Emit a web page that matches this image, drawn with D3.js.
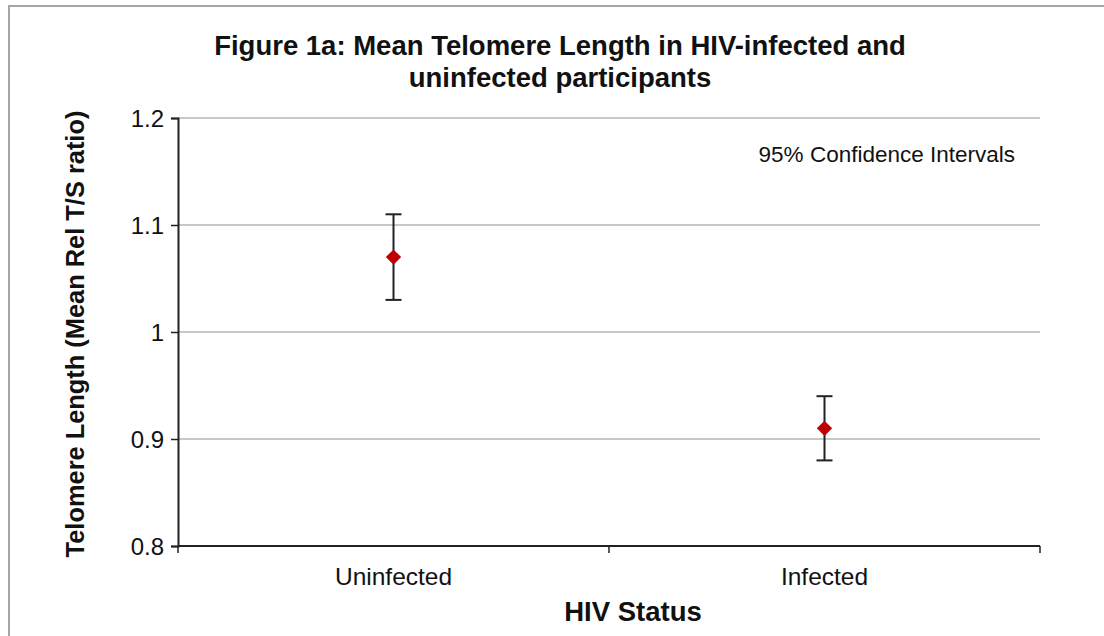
<!DOCTYPE html>
<html>
<head>
<meta charset="utf-8">
<script src="https://cdn.jsdelivr.net/npm/d3@7"></script>
<style>
  body { margin: 0; background: #fff; }
  svg { display: block; font-family: "Liberation Sans", Arial, sans-serif; }
</style>
</head>
<body>
<svg width="1104" height="636"></svg>
<script>
// chart data
var categories = ["Uninfected", "Infected"];
var means = [1.07, 0.91];
var lower = [1.03, 0.88];
var upper = [1.11, 0.94];
var yTicks = [0.8, 0.9, 1.0, 1.1, 1.2];

var svg = d3.select("svg");

// outer frame (runs off right and bottom edges)
svg.append("rect")
    .attr("x", 9).attr("y", 6)
    .attr("width", 1110).attr("height", 660)
    .attr("fill", "none")
    .attr("stroke", "#a6a6a6")
    .attr("stroke-width", 2);

var margin = {left: 178, right: 1040, top: 118, bottom: 546};

var y = d3.scaleLinear().domain([0.8, 1.2]).range([margin.bottom, margin.top]);
var x = d3.scaleBand().domain(categories).range([margin.left, margin.right]);

// gridlines
svg.append("g").selectAll("line")
    .data(yTicks.filter(function(d) { return d > 0.8; }))
    .enter().append("line")
    .attr("x1", margin.left).attr("x2", margin.right)
    .attr("y1", function(d) { return y(d); })
    .attr("y2", function(d) { return y(d); })
    .attr("stroke", "#c8c8c8")
    .attr("stroke-width", 2);

// y axis
var yAxis = svg.append("g")
    .attr("transform", "translate(" + margin.left + ",0)")
    .call(d3.axisLeft(y).tickValues(yTicks).tickSize(7).tickPadding(7)
        .tickFormat(function(d) { return d3.format("")(+d.toFixed(1)); }));
yAxis.selectAll("text").attr("font-size", 24).attr("fill", "#111").attr("dy", "0.35em")
    .style("font-family", "'Liberation Sans', Arial, sans-serif");
yAxis.selectAll("line").attr("stroke", "#222").attr("stroke-width", 1.5);
yAxis.select(".domain").attr("stroke", "#222").attr("stroke-width", 2);

// x axis
var xAxis = svg.append("g")
    .attr("transform", "translate(0," + margin.bottom + ")")
    .call(d3.axisBottom(x).tickSize(0).tickPadding(22));
xAxis.select(".domain").remove();
xAxis.selectAll("text").attr("font-size", 24.5).attr("fill", "#111")
    .style("font-family", "'Liberation Sans', Arial, sans-serif");

svg.append("line")
    .attr("x1", margin.left).attr("x2", margin.right)
    .attr("y1", margin.bottom).attr("y2", margin.bottom)
    .attr("stroke", "#222").attr("stroke-width", 2);
var bounds = [margin.left, margin.left + x.bandwidth(), margin.right];
svg.append("g").selectAll("line")
    .data(bounds).enter().append("line")
    .attr("x1", function(d) { return d; }).attr("x2", function(d) { return d; })
    .attr("y1", margin.bottom).attr("y2", margin.bottom + 7)
    .attr("stroke", "#222").attr("stroke-width", 1.5);

// error bars
var pts = categories.map(function(c, i) {
  return {cat: c, mean: means[i], lo: lower[i], hi: upper[i]};
});
var g = svg.append("g").selectAll("g").data(pts).enter().append("g")
    .attr("transform", function(d) { return "translate(" + (x(d.cat) + x.bandwidth() / 2) + ",0)"; });

g.append("line")
    .attr("y1", function(d) { return y(d.lo); })
    .attr("y2", function(d) { return y(d.hi); })
    .attr("stroke", "#222").attr("stroke-width", 2);
g.append("line")
    .attr("x1", -8).attr("x2", 8)
    .attr("y1", function(d) { return y(d.hi); })
    .attr("y2", function(d) { return y(d.hi); })
    .attr("stroke", "#222").attr("stroke-width", 2);
g.append("line")
    .attr("x1", -8).attr("x2", 8)
    .attr("y1", function(d) { return y(d.lo); })
    .attr("y2", function(d) { return y(d.lo); })
    .attr("stroke", "#222").attr("stroke-width", 2);
g.append("path")
    .attr("d", d3.symbol().type(d3.symbolDiamond2).size(150))
    .attr("transform", function(d) { return "translate(0," + y(d.mean) + ")"; })
    .attr("fill", "#c00000");

// titles
svg.append("text")
    .attr("x", 560).attr("y", 55)
    .attr("text-anchor", "middle")
    .attr("font-size", 27.5).attr("font-weight", "bold").attr("fill", "#111")
    .text("Figure 1a: Mean Telomere Length in HIV-infected and");
svg.append("text")
    .attr("x", 560).attr("y", 87)
    .attr("text-anchor", "middle")
    .attr("font-size", 27.5).attr("font-weight", "bold").attr("fill", "#111")
    .text("uninfected participants");

svg.append("text")
    .attr("x", 633).attr("y", 621)
    .attr("text-anchor", "middle")
    .attr("font-size", 27.5).attr("font-weight", "bold").attr("fill", "#111")
    .text("HIV Status");

svg.append("text")
    .attr("transform", "translate(84,334) rotate(-90)")
    .attr("text-anchor", "middle")
    .attr("font-size", 25.4).attr("font-weight", "bold").attr("fill", "#111")
    .text("Telomere Length (Mean Rel T/S ratio)");

svg.append("text")
    .attr("x", 1015).attr("y", 162)
    .attr("text-anchor", "end")
    .attr("font-size", 22.5).attr("fill", "#111")
    .text("95% Confidence Intervals");
</script>
</body>
</html>
